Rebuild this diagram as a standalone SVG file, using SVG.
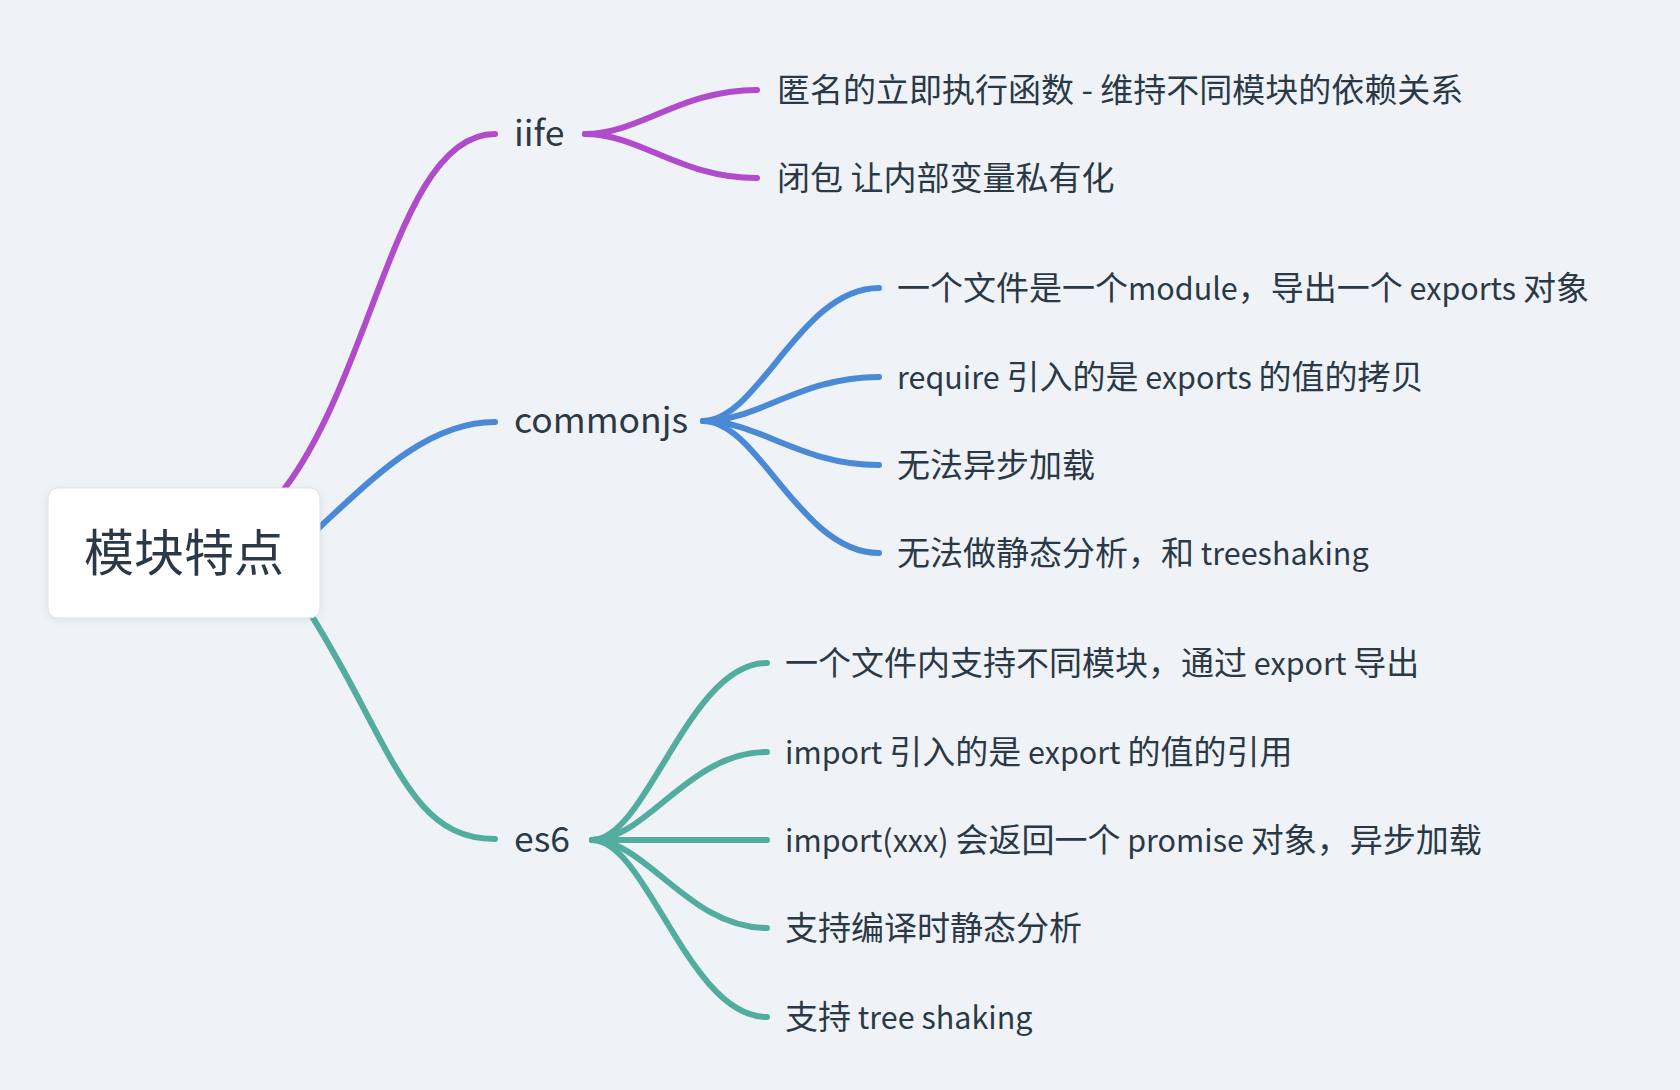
<svg xmlns="http://www.w3.org/2000/svg" width="1680" height="1090" viewBox="0 0 1680 1090">
<defs>
<filter id="sh" x="-20%" y="-20%" width="140%" height="140%">
<feDropShadow dx="0" dy="2" stdDeviation="4" flood-color="#000" flood-opacity="0.07"/>
</filter>
<style>
text{font-family:"Noto Sans CJK SC","Noto Sans",sans-serif;fill:#2b3947;}
.root{font-size:50px;}
.main{font-size:35.5px;}
.leaf{font-size:33px;}
.l{font-size:30.5px;}
.c{fill:none;stroke-width:6;stroke-linecap:round;stroke-linejoin:round;}
.p{stroke:#b04bcb;}
.b{stroke:#4a89d6;}
.g{stroke:#53ad9f;}
</style>
</defs>
<rect x="0" y="0" width="1680" height="1090" fill="#eff3f7"/>
<g id="connectors">
<path class="c p" d="M273 504 L285 488 C375 368 398 134 495 134"/>
<path class="c b" d="M300 545 L322 525 C374 477 428 422 495 422"/>
<path class="c g" d="M302 601 L313 618 C392 745 408 839 495 839"/>
<path class="c p" d="M585 134 C640 134 680 90 757 90"/>
<path class="c p" d="M585 134 C640 134 680 178 757 178"/>
<path class="c b" d="M703 421 C759 421 800 288 879 288"/>
<path class="c b" d="M703 421 C759 421 800 377 879 377"/>
<path class="c b" d="M703 421 C759 421 800 465 879 465"/>
<path class="c b" d="M703 421 C759 421 800 553 879 553"/>
<path class="c g" d="M592 840 C647 840 688 663 767 663"/>
<path class="c g" d="M592 840 C647 840 688 752 767 752"/>
<path class="c g" d="M592 840 L767 840"/>
<path class="c g" d="M592 840 C647 840 688 928 767 928"/>
<path class="c g" d="M592 840 C647 840 688 1017 767 1017"/>
</g>
<g id="root">
<rect x="48" y="488" width="272" height="130" rx="10" fill="#ffffff" stroke="#dde2e7" stroke-width="1" filter="url(#sh)"/>
<text class="root" x="184" y="571" text-anchor="middle">模块特点</text>
</g>
<g id="iife"><text class="main" x="514" y="146">iife</text></g>
<g id="commonjs"><text class="main" x="514" y="433">commonjs</text></g>
<g id="es6"><text class="main" x="514" y="852">es6</text></g>
<g id="iife-1"><text class="leaf" x="777" y="102">匿名的立即执行函数 - 维持不同模块的依赖关系</text></g>
<g id="iife-2"><text class="leaf" x="777" y="190">闭包 让内部变量私有化</text></g>
<g id="cjs-1"><text class="leaf" x="897" y="300">一个文件是一个<tspan class="l">module</tspan>，导出一个<tspan class="l"> exports </tspan>对象</text></g>
<g id="cjs-2"><text class="leaf" x="897" y="389"><tspan class="l">require </tspan>引入的是<tspan class="l"> exports </tspan>的值的拷贝</text></g>
<g id="cjs-3"><text class="leaf" x="897" y="477">无法异步加载</text></g>
<g id="cjs-4"><text class="leaf" x="897" y="565">无法做静态分析，和<tspan class="l"> treeshaking</tspan></text></g>
<g id="es6-1"><text class="leaf" x="785" y="675">一个文件内支持不同模块，通过<tspan class="l"> export </tspan>导出</text></g>
<g id="es6-2"><text class="leaf" x="785" y="764"><tspan class="l">import </tspan>引入的是<tspan class="l"> export </tspan>的值的引用</text></g>
<g id="es6-3"><text class="leaf" x="785" y="852"><tspan class="l">import(xxx) </tspan>会返回一个<tspan class="l"> promise </tspan>对象，异步加载</text></g>
<g id="es6-4"><text class="leaf" x="785" y="940">支持编译时静态分析</text></g>
<g id="es6-5"><text class="leaf" x="785" y="1029">支持<tspan class="l"> tree shaking</tspan></text></g>
</svg>
